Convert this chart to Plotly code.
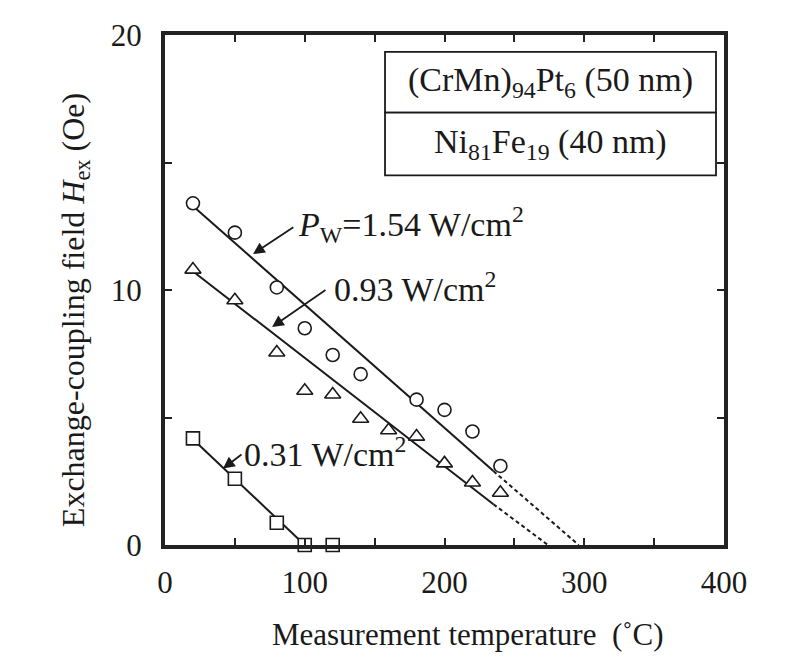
import plotly.graph_objects as go

# ---- data ----
temp_154 = [20, 50, 80, 100, 120, 140, 180, 200, 220, 240]
hex_154 = [13.4, 12.25, 10.1, 8.5, 7.45, 6.7, 5.7, 5.3, 4.45, 3.1]

temp_093 = [20, 50, 80, 100, 120, 140, 160, 180, 200, 220, 240]
hex_093 = [10.8, 9.6, 7.55, 6.05, 5.9, 4.95, 4.5, 4.25, 3.2, 2.45, 2.05]

temp_031 = [20, 50, 80, 100, 120]
hex_031 = [4.18, 2.6, 0.87, 0.0, 0.0]

# fitted lines (solid part) and extrapolations (dashed part)
fit_154_x = [22, 235]
fit_154_y = [13.2, 2.9]
ext_154_x = [235, 296]
ext_154_y = [2.9, 0]

fit_093_x = [22, 235]
fit_093_y = [10.65, 1.6]
ext_093_x = [235, 274]
ext_093_y = [1.6, 0]

fit_031_x = [20, 100]
fit_031_y = [4.15, 0]

x_ticks = [0, 100, 200, 300, 400]
y_ticks = [0, 10, 20]

FONT = "Liberation Serif, Times New Roman, serif"
INK = "#1a1a1a"
NB = "&nbsp;"

fig = go.Figure()

line_style = dict(color=INK, width=2)
dash_style = dict(color=INK, width=2, dash="4px,3px")

fig.add_trace(go.Scatter(x=fit_154_x, y=fit_154_y, mode="lines", line=line_style, showlegend=False))
fig.add_trace(go.Scatter(x=ext_154_x, y=ext_154_y, mode="lines", line=dash_style, showlegend=False))
fig.add_trace(go.Scatter(x=fit_093_x, y=fit_093_y, mode="lines", line=line_style, showlegend=False))
fig.add_trace(go.Scatter(x=ext_093_x, y=ext_093_y, mode="lines", line=dash_style, showlegend=False))
fig.add_trace(go.Scatter(x=fit_031_x, y=fit_031_y, mode="lines", line=line_style, showlegend=False))

mk_line = dict(color=INK, width=1.6)
fig.add_trace(go.Scatter(x=temp_154, y=hex_154, mode="markers", cliponaxis=False,
                         marker=dict(symbol="circle", size=13, color="white", line=mk_line),
                         name="1.54 W/cm2", showlegend=False))
fig.add_trace(go.Scatter(x=temp_093, y=hex_093, mode="markers", cliponaxis=False,
                         marker=dict(symbol="triangle-up", size=14, color="white", line=mk_line),
                         name="0.93 W/cm2", showlegend=False))
fig.add_trace(go.Scatter(x=temp_031, y=hex_031, mode="markers", cliponaxis=False,
                         marker=dict(symbol="square", size=13, color="white", line=mk_line),
                         name="0.31 W/cm2", showlegend=False))

# annotation arrows (head x,y ; tail ax,ay in data units) and labels
arrows = [
    dict(x=63.0, y=11.41, ax=92.9, ay=12.5),
    dict(x=76.6, y=8.55, ax=115.9, ay=10.04),
    dict(x=41.5, y=3.0, ax=55.8, ay=3.59),
]
for a in arrows:
    fig.add_annotation(x=a["x"], y=a["y"], ax=a["ax"], ay=a["ay"], xref="x", yref="y",
                       axref="x", ayref="y", text="", showarrow=True,
                       arrowhead=2, arrowsize=1.3, arrowwidth=1.8, arrowcolor=INK)

labels = [
    dict(x=93.5, y=12.58, text="<i>P</i><sub>W</sub>=1.54 W/cm<sup>2</sup>"),
    dict(x=119.5, y=10.12, text="0.93 W/cm<sup>2</sup>"),
    dict(x=55.0, y=3.63, text="0.31 W/cm<sup>2</sup>"),
]
for l in labels:
    fig.add_annotation(x=l["x"], y=l["y"], xref="x", yref="y", text=l["text"],
                       showarrow=False, xanchor="left", yanchor="middle",
                       font=dict(family=FONT, size=34, color=INK))

# layer-structure box
box_x0, box_x1 = 0.3936, 0.9857
box_y0, box_ymid, box_y1 = 0.7246, 0.8477, 0.9668
for (y0, y1) in [(box_ymid, box_y1), (box_y0, box_ymid)]:
    fig.add_shape(type="rect", xref="paper", yref="paper", x0=box_x0, x1=box_x1, y0=y0, y1=y1,
                  line=dict(color=INK, width=1.8), fillcolor="white", layer="below")
layer_text = ["(CrMn)<sub>94</sub>Pt<sub>6</sub> (50 nm)", "Ni<sub>81</sub>Fe<sub>19</sub> (40 nm)"]
layer_y = [(box_ymid + box_y1) / 2, (box_y0 + box_ymid) / 2]
for t, yy in zip(layer_text, layer_y):
    fig.add_annotation(x=(box_x0 + box_x1) / 2, y=yy, xref="paper", yref="paper", text=t,
                       xanchor="center", yanchor="middle",
                       showarrow=False, font=dict(family=FONT, size=34, color=INK))

axis_common = dict(
    showgrid=False, zeroline=False, showline=True, linecolor="#222", linewidth=4,
    mirror="allticks", ticks="inside", ticklen=7, tickwidth=1.5, tickcolor="#222",
    tickfont=dict(family=FONT, size=31, color=INK),
)

fig.update_xaxes(
    range=[0, 400], tickmode="array", tickvals=x_ticks, ticktext=[str(v) for v in x_ticks],
    minor=dict(dtick=50, ticks="inside", ticklen=7, tickwidth=1.5, tickcolor="#222"),
    ticklabelstandoff=7,
    title=dict(text=NB * 6 + "Measurement temperature  (˚C)",
               font=dict(family=FONT, size=31, color=INK), standoff=25),
    **axis_common,
)
fig.update_yaxes(
    range=[0, 20], tickmode="array", tickvals=y_ticks, ticktext=[str(v) for v in y_ticks],
    minor=dict(dtick=5, ticks="inside", ticklen=7, tickwidth=1.5, tickcolor="#222"),
    ticklabelstandoff=13,
    title=dict(text="Exchange-coupling field <i>H</i><sub>ex</sub> (Oe)" + NB * 5,
               font=dict(family=FONT, size=32, color=INK), standoff=18),
    **axis_common,
)

fig.update_layout(
    width=806, height=659,
    margin=dict(l=165, r=82, t=35, b=112),
    paper_bgcolor="white", plot_bgcolor="white",
    showlegend=False,
)

fig.write_html("out.html")
